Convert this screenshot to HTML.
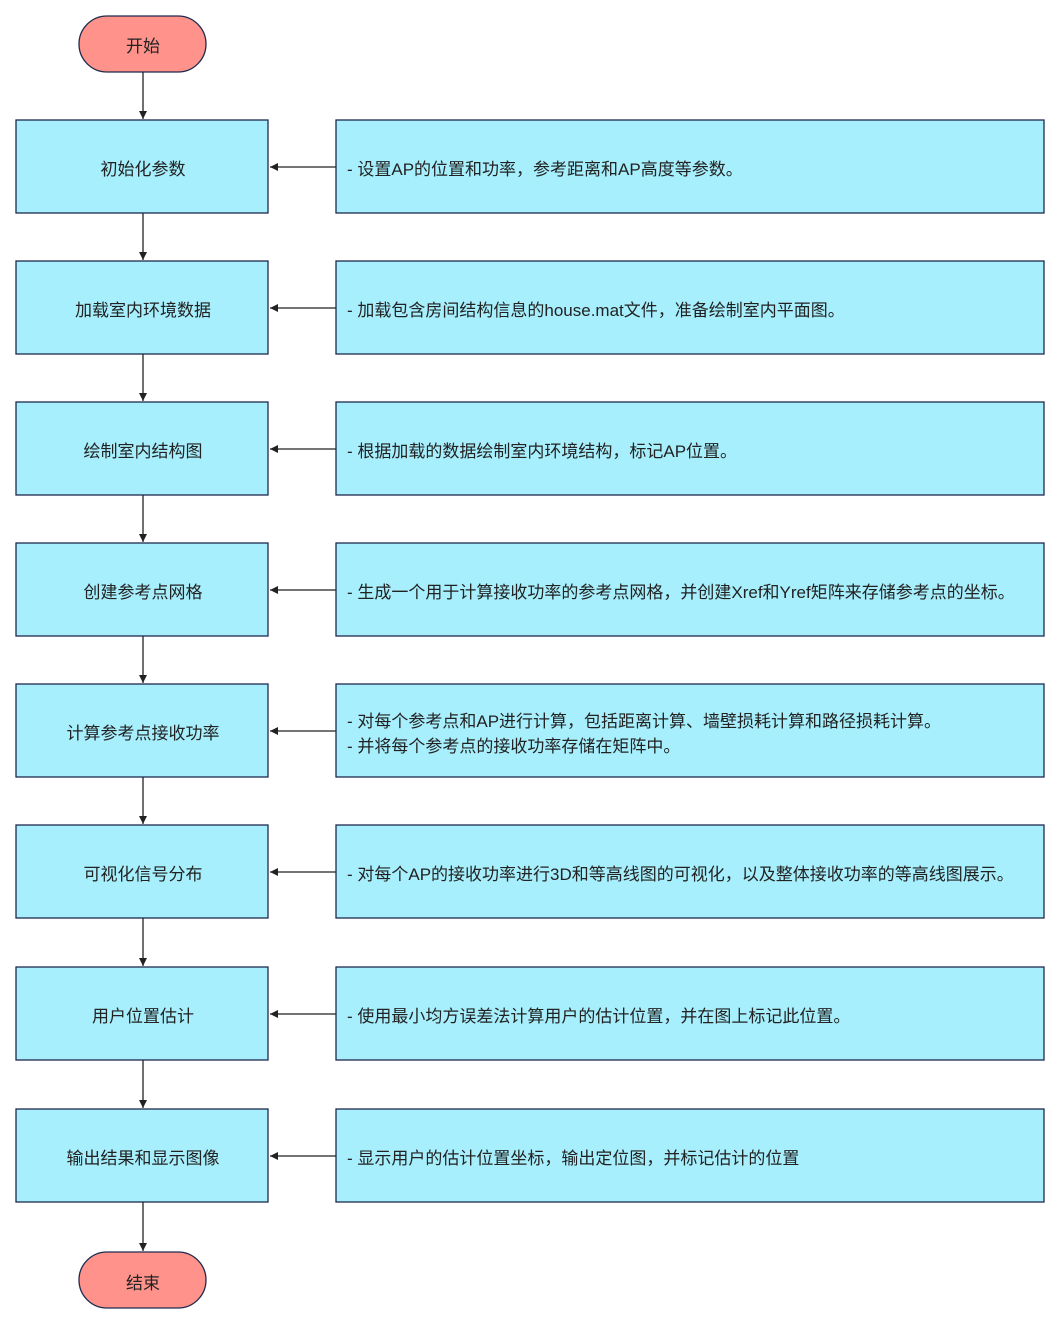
<!DOCTYPE html>
<html><head><meta charset="utf-8"><style>
body{margin:0;background:#fff;}
svg{display:block}
text{font-family:"Liberation Sans","Noto Sans CJK SC",sans-serif;font-size:17px;fill:#222;}
</style></head><body>
<svg width="1063" height="1332" xmlns="http://www.w3.org/2000/svg">
<defs><marker id="a" markerWidth="10" markerHeight="10" refX="9" refY="5" orient="auto" markerUnits="userSpaceOnUse"><path d="M1,1 L9,5 L1,9 z" fill="#222"/></marker></defs>
<g stroke="#222" stroke-width="1.3" fill="none">
<line x1="143" y1="72" x2="143" y2="119" marker-end="url(#a)"/>
<line x1="143" y1="213" x2="143" y2="260" marker-end="url(#a)"/>
<line x1="143" y1="354" x2="143" y2="401" marker-end="url(#a)"/>
<line x1="143" y1="495" x2="143" y2="542" marker-end="url(#a)"/>
<line x1="143" y1="636" x2="143" y2="683" marker-end="url(#a)"/>
<line x1="143" y1="777" x2="143" y2="824" marker-end="url(#a)"/>
<line x1="143" y1="918" x2="143" y2="966" marker-end="url(#a)"/>
<line x1="143" y1="1060" x2="143" y2="1108" marker-end="url(#a)"/>
<line x1="143" y1="1202" x2="143" y2="1251" marker-end="url(#a)"/>
<line x1="336" y1="167" x2="270" y2="167" marker-end="url(#a)"/>
<line x1="336" y1="308" x2="270" y2="308" marker-end="url(#a)"/>
<line x1="336" y1="449" x2="270" y2="449" marker-end="url(#a)"/>
<line x1="336" y1="590" x2="270" y2="590" marker-end="url(#a)"/>
<line x1="336" y1="731" x2="270" y2="731" marker-end="url(#a)"/>
<line x1="336" y1="872" x2="270" y2="872" marker-end="url(#a)"/>
<line x1="336" y1="1014" x2="270" y2="1014" marker-end="url(#a)"/>
<line x1="336" y1="1156" x2="270" y2="1156" marker-end="url(#a)"/>
</g>
<g stroke="#1f2a4f" stroke-width="1.3">
<rect x="79" y="16" width="127" height="56" rx="28" fill="#ff928a"/>
<rect x="79" y="1252" width="127" height="56" rx="28" fill="#ff928a"/>
<g fill="#a7effc">
<rect x="16" y="120" width="252" height="93"/><rect x="336" y="120" width="708" height="93"/>
<rect x="16" y="261" width="252" height="93"/><rect x="336" y="261" width="708" height="93"/>
<rect x="16" y="402" width="252" height="93"/><rect x="336" y="402" width="708" height="93"/>
<rect x="16" y="543" width="252" height="93"/><rect x="336" y="543" width="708" height="93"/>
<rect x="16" y="684" width="252" height="93"/><rect x="336" y="684" width="708" height="93"/>
<rect x="16" y="825" width="252" height="93"/><rect x="336" y="825" width="708" height="93"/>
<rect x="16" y="967" width="252" height="93"/><rect x="336" y="967" width="708" height="93"/>
<rect x="16" y="1109" width="252" height="93"/><rect x="336" y="1109" width="708" height="93"/>
</g></g>
<g text-anchor="middle">
<text x="143" y="52">开始</text>
<text x="143" y="1289">结束</text>
<text x="143" y="175">初始化参数</text>
<text x="143" y="316">加载室内环境数据</text>
<text x="143" y="457">绘制室内结构图</text>
<text x="143" y="598">创建参考点网格</text>
<text x="143" y="739">计算参考点接收功率</text>
<text x="143" y="880">可视化信号分布</text>
<text x="143" y="1022">用户位置估计</text>
<text x="143" y="1164">输出结果和显示图像</text>
</g>
<g>
<text x="347" y="175">- 设置AP的位置和功率，参考距离和AP高度等参数。</text>
<text x="347" y="316">- 加载包含房间结构信息的house.mat文件，准备绘制室内平面图。</text>
<text x="347" y="457">- 根据加载的数据绘制室内环境结构，标记AP位置。</text>
<text x="347" y="598">- 生成一个用于计算接收功率的参考点网格，并创建Xref和Yref矩阵来存储参考点的坐标。</text>
<text x="347" y="727">- 对每个参考点和AP进行计算，包括距离计算、墙壁损耗计算和路径损耗计算。</text>
<text x="347" y="752">- 并将每个参考点的接收功率存储在矩阵中。</text>
<text x="347" y="880">- 对每个AP的接收功率进行3D和等高线图的可视化，以及整体接收功率的等高线图展示。</text>
<text x="347" y="1022">- 使用最小均方误差法计算用户的估计位置，并在图上标记此位置。</text>
<text x="347" y="1164">- 显示用户的估计位置坐标，输出定位图，并标记估计的位置</text>
</g>
</svg>
</body></html>
